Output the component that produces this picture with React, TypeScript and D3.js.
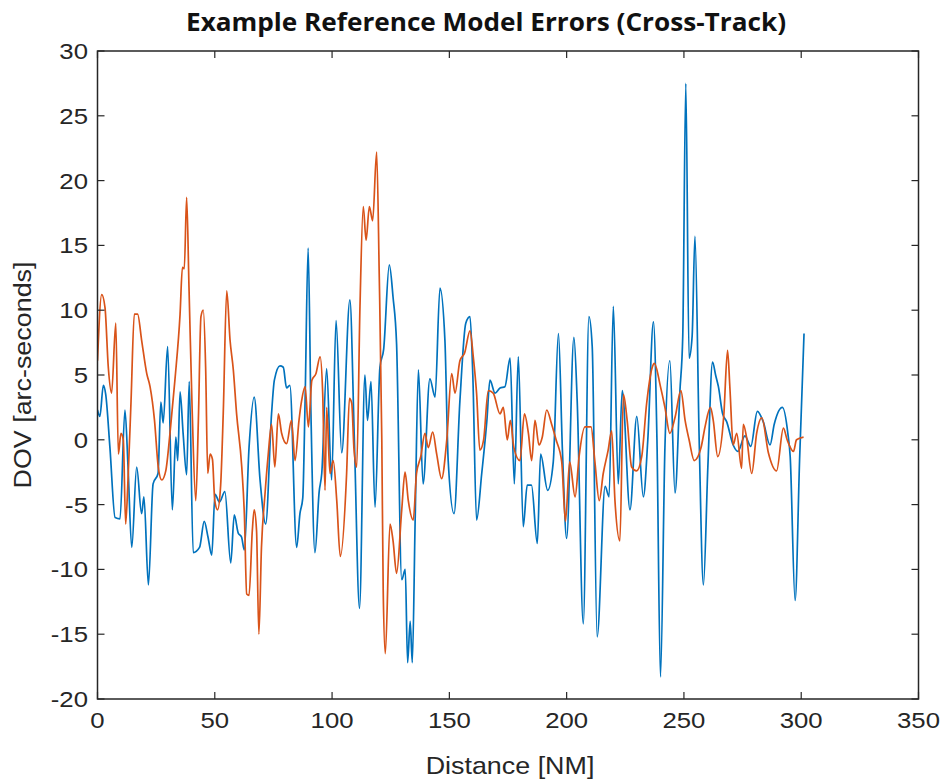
import React from "react";
import * as d3 from "d3";

const titleText = "Example Reference Model Errors (Cross-Track)";
const xLabel = "Distance [NM]";
const yLabel = "DOV [arc-seconds]";
const xTicks = [0, 50, 100, 150, 200, 250, 300, 350];
const yTicks = [-20, -15, -10, -5, 0, 5, 10, 15, 20, 25, 30];

const blueDist = [
  0, 1, 2.5, 3.5, 5.3, 7.5, 9.6, 11.7, 13, 14.6, 16.7, 18.8, 19.8, 21.7, 23.7, 25.8, 27, 28, 29.9, 31.9,
  33.4, 34.2, 35.2, 36.5, 38, 39.1, 40.8, 43.5, 45.5, 47.1, 48.7, 50.1, 52, 54.3, 56.8, 58.3, 60, 61.4, 62.6, 64.6,
  66.8, 69.3, 71.7, 74.2, 75.4, 77.8, 79.2, 80.6, 82, 84.9, 86.3, 87.5, 88.5, 89.8, 91, 92.7, 94.5, 95.6, 97.7, 99.8,
  101.7, 104.1, 107.6, 109.5, 111.7, 114, 115.1, 116.6, 118.3, 120.4, 122, 124.4, 126, 127.5, 129.7, 131.2, 132.2, 133.3, 134.2, 135.4,
  136.8, 138.8, 141.7, 143.9, 146, 148.1, 149.5, 152, 154.5, 157, 158.8, 160, 161.6, 163.8, 166, 167.3, 169.5, 171.6, 173.7, 175.9,
  177.7, 179.4, 181.5, 183.2, 185, 187.5, 188.9, 191.9, 194.3, 196.5, 198.2, 200, 203.1, 204.5, 207.1, 209.5, 210.9, 213, 216.4, 218.1,
  219.9, 222, 223.7, 227, 229.9, 232.7, 234.6, 237, 238.5, 240, 241.9, 244, 246.2, 248.3, 249.5, 250.8, 252.2, 253.5, 254.7, 256.5,
  258.3, 260.2, 262.2, 263.5, 264.7, 266.5, 268.2, 271, 273, 276, 278.5, 281.3, 283.8, 286.7, 288.5, 292, 294.3, 295.3, 297.4, 299.3, 301.2,
];
const blueDov = [
  2.3, 1.8, 4.2, 3.5, -0.6, -6.0, -6.1, 2.3, -2, -8.3, -2.1, -5.7, -4.4, -11.2, -3.4, -2.6, 2.9, 1.3, 7.2, -5.4,
  0.2, -1.6, 3.7, 0.5, -2.7, 4.5, -8.7, -8.3, -6.3, -7.5, -8.9, -4.2, -4.8, -4.0, -9.5, -5.8, -7.2, -7.5, -8.5, -0.6,
  3.3, -3.1, -6.5, 2.0, 4.6, 5.7, 5.6, 4.0, 4.2, -8.3, -5.7, -4.5, 3, 14.8, 2, -8.7, -4, -2.6, 5.5, -3.1,
  9.2, -1.0, 10.8, 0, -13.0, 5.0, 1.5, 4.5, -5.2, 5.6, 7, 13.5, 11, 7.4, -10.8, -10, -17.2, -14, -17.2, -6.4,
  5.4, -3.4, 4.7, 3.3, 11.7, 7.7, -1.6, -5.7, 3.0, 9.0, 9.5, 5, -6.2, -2.6, 1.5, 4.6, 3.6, 4.0, 4.1, 6.3,
  -3.4, 6.4, -6.7, -3.5, -3.5, -8.0, -1.1, -3.9, -1.7, 8.2, -0.8, -7.6, 7.9, 3, -14.2, 9.5, 7.2, -15.2, -3.6, -4.4,
  10.3, -3.4, 3.8, -5.4, 1.8, -4.4, 0, 9.1, 0, -18.3, -0.6, 6.1, -4.1, 3.8, 8, 27.5, 6.3, 8, 15.7, 0,
  -11.2, -2.1, 6.0, 5.0, 4.1, 2, 1.4, -0.4, -0.9, 0.3, -0.5, 2.2, 1.4, -0.4, 1.2, 2.5, 0.5, -1.3, -12.4, -1.6, 8.2,
];

const orangeDist = [
  0, 1.8, 3.2, 4.6, 6, 7.8, 8.9, 10, 11, 12, 13, 14.3, 15.7, 17.1, 18.8, 21, 22.4, 24.3, 25.9, 27.4,
  29.1, 30.9, 33, 35.2, 36.2, 37, 38, 39, 40.4, 41.9, 43, 44.1, 45.1, 46.1, 47, 48, 49, 50, 51.2, 52.5,
  53.6, 55.1, 56.5, 57.9, 59.3, 61.5, 62.6, 63.6, 64.6, 66, 66.8, 67.8, 68.8, 69.9, 71.4, 72.8, 74.2, 75.6, 77.1, 78.5,
  80.6, 82.7, 84.2, 85.9, 87, 88.5, 89.9, 91.4, 93.1, 94.9, 96, 97, 97.7, 99.1, 100.5, 102, 103.5, 106.2, 107.4, 108.4,
  109.3, 110.5, 111.9, 113.3, 114.5, 115.9, 117.3, 119, 120.1, 121.2, 121.8, 122.7, 124.7, 126, 127.5, 129.7, 131.1, 132.5, 134.6, 136,
  137.8, 139.6, 141, 142.9, 144.6, 146.7, 148.9, 151, 152.4, 154.5, 156.5, 158.8, 160.2, 161.6, 163, 164.6, 166.6, 168.7, 171.6, 173,
  174.7, 176, 177.5, 180.1, 182, 183.7, 185.1, 186.5, 188.2, 189.6, 191.5, 193.6, 195.5, 197.9, 199.5, 201.3, 203.6, 205.3, 207.8, 210.4,
  212, 213.9, 215.6, 217.7, 219.2, 220.6, 222.7, 224.2, 225.8, 227.7, 229.8, 232, 234.1, 236.5, 237.4, 240, 241.9, 244, 246.3, 248.7,
  250.5, 252.2, 254.4, 257.3, 259, 261.3, 262.5, 264.4, 267, 268.6, 269.6, 271, 272.5, 274.6, 275.3, 276.7, 278.9, 281, 283.2, 286,
  289.5, 292.4, 294, 296.7, 298, 301,
];
const orangeDov = [
  6.1, 11.2, 10.2, 5.6, 3.6, 9.0, -1.1, 0.5, 0, -6.5, -3.1, 3, 9.7, 9.7, 7.7, 5.1, 4.1, 1.5, -2.1, -3.1,
  -2.4, 0.5, 4.6, 9.7, 13.3, 13.2, 18.7, 11.8, 2.0, -4.7, 1.5, 9.5, 10.0, 5.6, -2.6, -1.1, -1.5, -4.7, -5.4, -3.5,
  2.0, 11.5, 7.7, 5.4, 2.0, -2.1, -5.7, -11.9, -12.0, -7.0, -5.4, -7, -15.0, -8.3, -4.2, -1.1, 1.2, -2.1, 2.0, 0.5,
  -0.3, 1.5, -1.6, 1.5, 3, 4.1, 1.0, 4.6, 5.1, 6.4, 3.6, -3.9, 2.5, -2.6, -1.6, -4.7, -9, -2.6, 3.2, 2.8,
  -0.6, -2.1, 10.3, 18.0, 15.4, 18.0, 16.9, 22.2, 12.8, 0, -11.6, -16.5, -6.5, -7.8, -10.3, -5.4, -2.5, -4.7, -6.2, -2.6,
  -1.3, 0.5, -0.6, 0.6, -1.1, -3.0, 0, 5.1, 3.6, 6.1, 6.7, 8.4, 6.4, 3.6, -0.8, 0, 3.8, 3.6, 2.0, 2.5,
  0, 1.5, -0.6, -1.6, 2.0, 0.5, -1.6, 1.5, -0.4, 0.2, 2.3, 1.2, 0, -1.7, -6.3, -1.7, -4.4, -1.3, 1.0, 1.0,
  -1.6, -4.7, -2.6, -0.8, 0.7, -4.7, -7.8, 3.5, 1.5, -2.1, -2.4, -1.3, 2.8, 5.6, 5.9, 4.1, 2.5, 0.5, 1.8, 3.8,
  1.5, 0, -1.6, -0.6, 1.0, 2.5, 1.5, -1.3, 1.9, 6.9, 4, -0.4, 0.5, -2.2, 1.2, 0.2, -2.6, 0.5, 1.7, -1,
  -2.4, 0.9, 0, -0.9, 0, 0.2,
];

const W = 946;
const H = 783;
const left = 97.5;
const right = 918.5;
const top = 51;
const bottom = 699;
const axisColor = "#262626";
const blue = "#0072BD";
const orange = "#D95319";
const tickFont = "'Liberation Sans', Arial, sans-serif";

export default function App() {
  const x = d3.scaleLinear().domain([0, 350]).range([left, right]);
  const y = d3.scaleLinear().domain([-20, 30]).range([bottom, top]);
  const line = d3
    .line<[number, number]>()
    .x((d) => x(d[0]))
    .y((d) => y(d[1]))
    .curve(d3.curveMonotoneX);
  const bluePts = blueDist.map((d, i) => [d, blueDov[i]] as [number, number]);
  const orangePts = orangeDist.map((d, i) => [d, orangeDov[i]] as [number, number]);
  const tl = 7;
  const sx = 1.12;

  return (
    <svg
      width={W}
      height={H}
      style={{ position: "absolute", left: 0, top: 0, background: "#fff" }}
    >
      <rect x={0} y={0} width={W} height={H} fill="#fff" />
      <g transform={`translate(${486},31)`}>
        <text
          x={0}
          y={0}
          textAnchor="middle"
          fontFamily="'Open Sans', sans-serif"
          fontWeight={700}
          fontSize={25}
          fill="#111"
          textLength={600}
          lengthAdjust="spacingAndGlyphs"
        >
          {titleText}
        </text>
      </g>
      <defs>
        <clipPath id="plotclip">
          <rect x={left} y={top} width={right - left} height={bottom - top} />
        </clipPath>
      </defs>
      <g clipPath="url(#plotclip)">
        <path d={line(bluePts) || ""} fill="none" stroke={blue} strokeWidth={1.7} strokeLinejoin="round" />
        <path d={line(orangePts) || ""} fill="none" stroke={orange} strokeWidth={1.7} strokeLinejoin="round" />
      </g>
      <rect x={left} y={top} width={right - left} height={bottom - top} fill="none" stroke={axisColor} strokeWidth={1.5} />
      {xTicks.map((t) => (
        <g key={"xt" + t}>
          <line x1={x(t)} x2={x(t)} y1={bottom} y2={bottom - tl} stroke={axisColor} strokeWidth={1.2} />
          <line x1={x(t)} x2={x(t)} y1={top} y2={top + tl} stroke={axisColor} strokeWidth={1.2} />
          <g transform={`translate(${x(t)},${728}) scale(${sx},1)`}>
            <text textAnchor="middle" fontFamily={tickFont} fontSize={23} fill={axisColor}>
              {t}
            </text>
          </g>
        </g>
      ))}
      {yTicks.map((t) => (
        <g key={"yt" + t}>
          <line x1={left} x2={left + tl} y1={y(t)} y2={y(t)} stroke={axisColor} strokeWidth={1.2} />
          <line x1={right} x2={right - tl} y1={y(t)} y2={y(t)} stroke={axisColor} strokeWidth={1.2} />
          <g transform={`translate(${88},${y(t) + 8}) scale(${sx},1)`}>
            <text textAnchor="end" fontFamily={tickFont} fontSize={23} fill={axisColor}>
              {t}
            </text>
          </g>
        </g>
      ))}
      <g transform={`translate(${510},${774}) scale(${sx},1)`}>
        <text textAnchor="middle" fontFamily={tickFont} fontSize={24} fill={axisColor}>
          {xLabel}
        </text>
      </g>
      <g transform={`translate(${31},${375}) rotate(-90) scale(${sx},1)`}>
        <text textAnchor="middle" fontFamily={tickFont} fontSize={24} fill={axisColor}>
          {yLabel}
        </text>
      </g>
    </svg>
  );
}
